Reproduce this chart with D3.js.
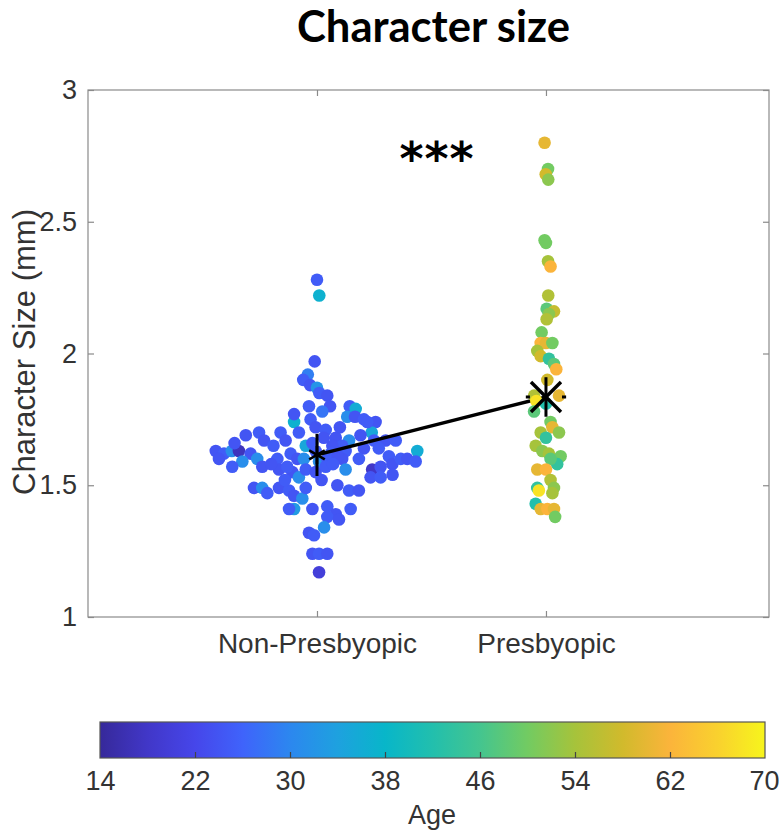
<!DOCTYPE html>
<html><head><meta charset="utf-8">
<script src="https://cdn.jsdelivr.net/npm/d3@7"></script>
<style>
html,body{margin:0;padding:0;background:#fff;}
svg{display:block;}
text{font-family:"Liberation Sans",Arial,sans-serif;}
</style></head>
<body>
<svg id="chart" width="779" height="832"></svg>
<script>
// ---------- data ----------
const titleText = "Character size";
const categories = ["Non-Presbyopic", "Presbyopic"];
const yTicks = [1, 1.5, 2, 2.5, 3];
const ageTicks = [14, 22, 30, 38, 46, 54, 62, 70];
const yLabel = "Character Size (mm)";
const ageLabel = "Age";
const sigText = "***";
const groupMeans = [1.615, 1.835];
const groupErr = [0.08, 0.075];

// [character size, jitter (category units), age]
const nonPresbyopic = [
 [2.28,0.00,25],[2.22,0.01,37],[1.97,-0.01,24],[1.92,-0.04,29],[1.90,-0.06,25],[1.88,-0.03,24],
 [1.87,0.00,32],[1.85,0.01,25],[1.84,0.045,24],[1.80,-0.035,25],[1.80,0.057,24],[1.78,0.023,28],
 [1.80,0.143,25],[1.79,0.169,36],[1.76,0.132,31],[1.76,0.166,24],[1.75,0.205,25],[1.74,0.256,24],
 [1.70,0.239,35],[1.74,0.22,25],[1.74,-0.10,37],[1.77,-0.10,24],[1.75,-0.028,25],[1.72,-0.006,24],
 [1.71,0.038,25],[1.68,0.082,24],[1.67,0.14,31],[1.65,0.11,25],[1.69,-0.311,24],[1.70,-0.253,25],
 [1.67,-0.231,24],[1.70,-0.159,25],[1.67,-0.137,24],[1.70,-0.079,25],[1.65,-0.049,35],[1.63,-0.006,25],
 [1.65,0.067,24],[1.63,0.125,25],[1.64,0.205,24],[1.67,0.249,25],[1.67,0.30,24],[1.67,0.344,25],
 [1.63,0.438,36],[1.63,-0.442,24],[1.62,-0.406,25],[1.63,-0.372,31],[1.63,-0.341,17],[1.62,-0.29,24],
 [1.60,-0.428,24],[1.59,-0.326,31],[1.60,-0.261,31],[1.57,-0.239,24],[1.60,-0.173,25],[1.56,-0.166,24],
 [1.62,-0.115,25],[1.60,-0.086,24],[1.60,-0.057,31],[1.59,0.009,31],[1.60,0.045,25],[1.60,0.11,24],
 [1.60,0.183,25],[1.56,0.241,18],[1.57,0.278,24],[1.61,0.314,25],[1.58,0.329,24],[1.60,0.366,25],
 [1.60,0.394,24],[1.59,0.431,25],[1.53,0.234,24],[1.53,0.278,25],[1.55,-0.108,24],[1.53,-0.079,31],
 [1.56,-0.049,25],[1.55,-0.006,24],[1.57,0.038,25],[1.56,0.125,31],[1.49,-0.275,24],[1.49,-0.239,31],
 [1.47,-0.217,25],[1.49,-0.166,24],[1.48,-0.122,25],[1.46,-0.10,24],[1.45,-0.064,31],[1.49,-0.049,25],
 [1.50,0.089,24],[1.48,0.14,25],[1.48,0.183,24],[1.41,-0.10,33],[1.41,-0.122,25],[1.41,-0.02,24],
 [1.42,0.045,25],[1.39,0.082,24],[1.38,0.045,25],[1.37,0.096,24],[1.41,0.147,25],[1.34,0.031,31],
 [1.32,-0.035,24],[1.31,-0.013,25],[1.24,-0.02,24],[1.24,0.009,25],[1.24,0.045,24],[1.17,0.009,20],
 [1.66,-0.02,25],[1.68,0.03,24],[1.62,0.06,25],[1.61,0.09,24],[1.58,0.07,25],[1.52,0.02,24],
 [1.57,-0.13,25],[1.58,-0.2,24],[1.65,-0.19,25],[1.69,0.19,24],[1.64,0.27,25],[1.66,-0.36,24],
 [1.57,-0.37,25],[1.54,0.33,24],[1.72,0.1,24],[1.52,-0.14,25]
];
const presbyopic = [
 [2.80,-0.006,60],[2.70,0.009,50],[2.68,-0.001,58],[2.66,0.01,52],[2.43,-0.006,50],[2.42,0,50],
 [2.35,0.009,54],[2.33,0.02,62],[2.22,0.01,55],[2.17,0.003,48],[2.16,0.035,57],[2.15,0.013,52],
 [2.13,0.003,55],[2.08,-0.019,50],[2.04,-0.023,62],[2.04,0,60],[2.04,0.028,50],[2.01,-0.038,54],
 [1.99,-0.023,58],[1.98,0.013,44],[1.96,0.035,48],[1.94,0.045,62],[1.90,0.006,58],[1.84,-0.052,55],
 [1.82,-0.042,68],[1.81,0,42],[1.84,0.057,60],[1.78,-0.052,48],[1.74,0.02,50],[1.72,0.028,60],
 [1.70,-0.023,54],[1.70,0.057,52],[1.68,0,44],[1.65,-0.045,54],[1.63,-0.016,52],[1.62,0.013,54],
 [1.61,0.064,50],[1.58,0.049,44],[1.60,0.02,48],[1.56,-0.038,60],[1.56,0,62],[1.52,0.02,55],
 [1.49,0.035,52],[1.49,-0.038,44],[1.48,-0.031,68],[1.47,0.028,54],[1.43,-0.045,42],[1.41,-0.023,60],
 [1.41,0.006,62],[1.41,0.035,60],[1.38,0.04,50]
];
// parula-like colormap stops
const cmapAges = [14,18,22,26,30,34,38,42,46,50,54,58,62,66,70];
const cmapColors = ["#36299a","#4137c8","#4646ea","#3f63fb","#2c87ef","#1ea1df","#08b6c9","#22bfad",
                    "#44c58f","#72cb62","#a6c33b","#d1ba2c","#fbb43b","#f9d12e","#f7f51c"];

// ---------- layout ----------
const svg = d3.select("#chart");
const plot = {left:88, right:769, top:90, bottom:617};
const cbar = {left:100, right:765, top:722, bottom:758};
const tickColor = "#333";
const boxColor = "#8a8a8a";

const x = d3.scaleLinear().domain([0, 2.974]).range([plot.left, plot.right]);
const y = d3.scaleLinear().domain([1, 3]).range([plot.bottom, plot.top]);
const color = d3.scaleLinear().domain(cmapAges).range(cmapColors).interpolate(d3.interpolateRgb).clamp(true);
const cx = d3.scaleLinear().domain([14, 70]).range([cbar.left, cbar.right]);

// title
const title = svg.append("text").attr("x", 433.5).attr("y", 42).attr("text-anchor","middle")
  .style("font-family","Lato, 'Open Sans', sans-serif").style("font-weight","700")
  .style("font-size","40px").attr("fill","#000").text(titleText);
const tl = title.node().getComputedTextLength();
title.style("font-size", (40*273/tl).toFixed(2)+"px");

// box
svg.append("rect").attr("x",plot.left).attr("y",plot.top)
  .attr("width",plot.right-plot.left).attr("height",plot.bottom-plot.top)
  .attr("fill","none").attr("stroke",boxColor).attr("stroke-width",1.2);

// axes
const fs = "28px";
const yAxis = svg.append("g").attr("transform",`translate(${plot.left},0)`)
  .call(d3.axisLeft(y).tickValues(yTicks).tickFormat(d3.format("")).tickSize(-6).tickPadding(11));
const yAxisR = svg.append("g").attr("transform",`translate(${plot.right},0)`)
  .call(d3.axisRight(y).tickValues(yTicks).tickFormat("").tickSize(-6));
const xAxis = svg.append("g").attr("transform",`translate(0,${plot.bottom})`)
  .call(d3.axisBottom(x).tickValues([1,2]).tickFormat(d=>categories[d-1]).tickSize(-6).tickPadding(16));
const xAxisT = svg.append("g").attr("transform",`translate(0,${plot.top})`)
  .call(d3.axisTop(x).tickValues([1,2]).tickFormat("").tickSize(-6));
[yAxis,yAxisR,xAxis,xAxisT].forEach(g=>{
  g.select(".domain").remove();
  g.selectAll(".tick line").attr("stroke",boxColor).attr("stroke-width",1.2);
  g.selectAll(".tick text").attr("fill",tickColor).style("font-size",fs)
    .style("font-family","'Liberation Sans', Arial, sans-serif");
});
yAxis.selectAll(".tick text").style("font-size","27px");

// y label
svg.append("text").attr("transform","translate(35,352) rotate(-90)").attr("text-anchor","middle")
  .attr("fill",tickColor).style("font-size","31px").text(yLabel);

// dots
const r = 6.3;
svg.append("g").selectAll("circle").data(nonPresbyopic).join("circle")
  .attr("cx", d=>x(1+d[1])).attr("cy", d=>y(d[0])).attr("r", r).attr("fill", d=>color(d[2]));

// connecting mean line
svg.append("line").attr("x1",x(1)).attr("y1",y(groupMeans[0])).attr("x2",x(2)).attr("y2",y(groupMeans[1]))
  .attr("stroke","#000").attr("stroke-width",3.4);

svg.append("g").selectAll("circle").data(presbyopic).join("circle")
  .attr("cx", d=>x(2+d[1])).attr("cy", d=>y(d[0])).attr("r", r).attr("fill", d=>color(d[2]));

// error bars
const eb = svg.append("g").attr("stroke","#000").attr("stroke-width",3);
groupMeans.forEach((m,i)=>{
  eb.append("line").attr("x1",x(i+1)).attr("x2",x(i+1)).attr("y1",y(m-groupErr[i])).attr("y2",y(m+groupErr[i]));
});
// caps of presbyopic horizontal bar
[[-0.088,-0.07],[0.07,0.088]].forEach(c=>{
  eb.append("line").attr("x1",x(2+c[0])).attr("x2",x(2+c[1])).attr("y1",y(groupMeans[1])).attr("y2",y(groupMeans[1]));
});
// asterisk marker for non-presbyopic mean
const m1x = x(1), m1y = y(groupMeans[0]);
[0,60,120].forEach(a=>{
  const rad = a*Math.PI/180, L=9;
  eb.append("line").attr("x1",m1x-L*Math.sin(rad)).attr("y1",m1y-L*Math.cos(rad))
    .attr("x2",m1x+L*Math.sin(rad)).attr("y2",m1y+L*Math.cos(rad)).attr("stroke-width",2.6);
});
// X marker for presbyopic mean
const m2x = x(2), m2y = y(groupMeans[1]), H=15;
eb.append("line").attr("x1",m2x-H).attr("y1",m2y-H).attr("x2",m2x+H).attr("y2",m2y+H).attr("stroke-width",3.4);
eb.append("line").attr("x1",m2x-H).attr("y1",m2y+H).attr("x2",m2x+H).attr("y2",m2y-H).attr("stroke-width",3.4);

// significance
svg.append("text").attr("x",437).attr("y",175).attr("text-anchor","middle")
  .style("font-family","'DejaVu Sans', sans-serif").style("font-weight","700").style("font-size","46px")
  .style("letter-spacing","1px").attr("fill","#000").text(sigText);

// colorbar
const defs = svg.append("defs");
const grad = defs.append("linearGradient").attr("id","parula").attr("x1","0%").attr("x2","100%");
cmapAges.forEach((a,i)=>grad.append("stop").attr("offset",((a-14)/56*100)+"%").attr("stop-color",cmapColors[i]));
svg.append("rect").attr("x",cbar.left).attr("y",cbar.top).attr("width",cbar.right-cbar.left)
  .attr("height",cbar.bottom-cbar.top).attr("fill","url(#parula)").attr("stroke","#555").attr("stroke-width",1.2);
const cAxis = svg.append("g").attr("transform",`translate(0,${cbar.bottom})`)
  .call(d3.axisBottom(cx).tickValues(ageTicks).tickSize(-6).tickPadding(13));
cAxis.select(".domain").remove();
cAxis.selectAll(".tick line").attr("stroke","#444").attr("stroke-width",1.2)
  .filter(d=>d===14||d===70).remove();
cAxis.selectAll(".tick text").attr("fill",tickColor).style("font-size","27px")
  .style("font-family","'Liberation Sans', Arial, sans-serif");
cAxis.selectAll(".tick text").filter(d=>d===70).attr("text-anchor","end").attr("dx","14px");
svg.append("text").attr("x",432).attr("y",824).attr("text-anchor","middle").attr("fill",tickColor)
  .style("font-size","27px").text(ageLabel);
</script>
</body></html>
